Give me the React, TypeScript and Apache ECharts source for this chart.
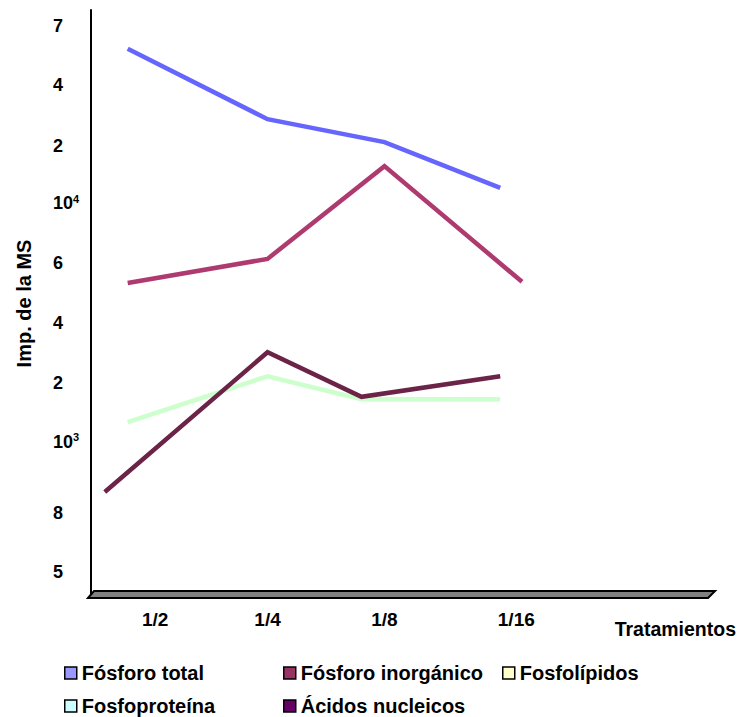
import React, { useEffect, useRef } from "react";
import * as echarts from "echarts";

// Category axis (treatments) and positions along the x axis
const categories = ["1/2", "1/4", "1/8", "1/16"];
const categoryPos = [0.56, 1.54, 2.56, 3.71];

// Y-axis tick labels and their positions on the axis
const yTickLabels = ["5", "8", "10^3", "2", "4", "6", "10^4", "2", "4", "7"];
const yTickPos = [0.426, 1.431, 2.641, 3.646, 4.668, 5.69, 6.712, 7.683, 8.722, 9.727];

const seriesNames = [
  "Fósforo total",
  "Fósforo inorgánico",
  "Fosfolípidos",
  "Fosfoproteína",
  "Ácidos nucleicos",
];
const legendColors = ["#9999FF", "#993366", "#FFFFCC", "#CCFFFF", "#660066"];
const lineColors = ["#6666FF", "#AE3A70", "#FFFFCC", "#CCFFCC", "#6B2348"];

// Series values (x = position along treatment axis, y = position along MS axis)
const fosforoTotalX = [0.32, 1.54, 2.56, 3.57];
const fosforoTotalY = [9.34, 8.14, 7.75, 6.97];
const fosforoInorgX = [0.32, 1.54, 2.56, 3.76];
const fosforoInorgY = [5.35, 5.76, 7.34, 5.37];
const fosfolipidosX: number[] = [];
const fosfolipidosY: number[] = [];
const fosfoproteinaX = [0.32, 1.54, 2.36, 3.57];
const fosfoproteinaY = [2.98, 3.76, 3.37, 3.37];
const acidosX = [0.12, 1.54, 2.36, 3.57];
const acidosY = [1.79, 4.17, 3.41, 3.76];

const seriesX = [fosforoTotalX, fosforoInorgX, fosfolipidosX, fosfoproteinaX, acidosX];
const seriesY = [fosforoTotalY, fosforoInorgY, fosfolipidosY, fosfoproteinaY, acidosY];

const FONT = "'Liberation Sans', Arial, sans-serif";

// legend grid: 3 columns, 2 rows
const legendCols = [64, 283, 502];
const legendRows = [663, 696];

function findIndex(arr: number[], v: number) {
  for (let i = 0; i < arr.length; i++) if (Math.abs(arr[i] - v) < 1e-6) return i;
  return -1;
}

export default function App() {
  const ref = useRef<HTMLDivElement>(null);
  useEffect(() => {
    if (!ref.current) return;
    const chart = echarts.init(ref.current, null, { renderer: "svg" });
    const option: any = {
      animation: false,
      backgroundColor: "#ffffff",
      textStyle: { fontFamily: FONT },
      grid: { left: 91, right: 27, top: 10, bottom: 120, containLabel: false },
      xAxis: {
        type: "value",
        min: 0,
        max: 5.4,
        name: "Tratamientos",
        nameLocation: "end",
        nameGap: 26,
        nameTextStyle: {
          fontFamily: FONT,
          fontSize: 19.5,
          fontWeight: "bold",
          color: "#000",
          align: "right",
          verticalAlign: "top",
          padding: [22, 0, 0, 0],
        },
        axisLine: { show: false },
        axisTick: { show: false },
        splitLine: { show: false },
        axisLabel: {
          customValues: categoryPos,
          margin: 13,
          fontFamily: FONT,
          fontSize: 19,
          fontWeight: "bold",
          color: "#000",
          formatter: (v: number) => {
            const i = findIndex(categoryPos, v);
            return i >= 0 ? categories[i] : "";
          },
        },
      },
      yAxis: {
        type: "value",
        min: 0,
        max: 10,
        name: "Imp. de la MS",
        nameLocation: "middle",
        nameGap: 57,
        nameTextStyle: { fontFamily: FONT, fontSize: 20, fontWeight: "bold", color: "#000" },
        axisLine: { show: true, lineStyle: { color: "#000", width: 2 } },
        axisTick: { show: false },
        splitLine: { show: false },
        axisLabel: {
          customValues: yTickPos,
          align: "left",
          margin: 38,
          color: "#000",
          formatter: (v: number) => {
            const i = findIndex(yTickPos, v);
            if (i < 0) return "";
            const t = yTickLabels[i];
            const parts = t.split("^");
            if (parts.length === 2) return `{b|${parts[0]}}{s|${parts[1]}}`;
            return `{b|${t}}`;
          },
          rich: {
            b: { fontFamily: FONT, fontSize: 18, fontWeight: "bold", color: "#000", lineHeight: 20 },
            s: {
              fontFamily: FONT,
              fontSize: 11,
              fontWeight: "bold",
              color: "#000",
              lineHeight: 11,
              verticalAlign: "top",
            },
          },
        },
      },
      legend: seriesNames.map((n, i) => ({
        left: legendCols[i % 3],
        top: legendRows[Math.floor(i / 3)],
        padding: 0,
        orient: "horizontal",
        icon: "rect",
        itemWidth: 12,
        itemHeight: 12,
        itemGap: 5,
        textStyle: { fontFamily: FONT, fontSize: 20, fontWeight: "bold", color: "#000" },
        data: [
          {
            name: n,
            itemStyle: { color: legendColors[i], borderColor: "#000", borderWidth: 1.5 },
          },
        ],
      })),
      graphic: [
        {
          type: "polygon",
          z: 1,
          shape: { points: [[88, 598], [94, 591], [715, 591], [708, 598]] },
          style: { fill: "#808080", stroke: "#000", lineWidth: 2 },
        },
      ],
      series: seriesNames.map((n, i) => ({
        name: n,
        type: "line",
        data: seriesX[i].map((x, j) => [x, seriesY[i][j]]),
        showSymbol: false,
        symbol: "none",
        color: legendColors[i],
        lineStyle: { color: lineColors[i], width: 4.5, join: "miter" },
        z: 3,
      })),
    };
    chart.setOption(option);
    return () => chart.dispose();
  }, []);
  return (
    <div
      ref={ref}
      style={{ position: "fixed", left: 0, top: 0, width: 739, height: 717, background: "#fff" }}
    />
  );
}
